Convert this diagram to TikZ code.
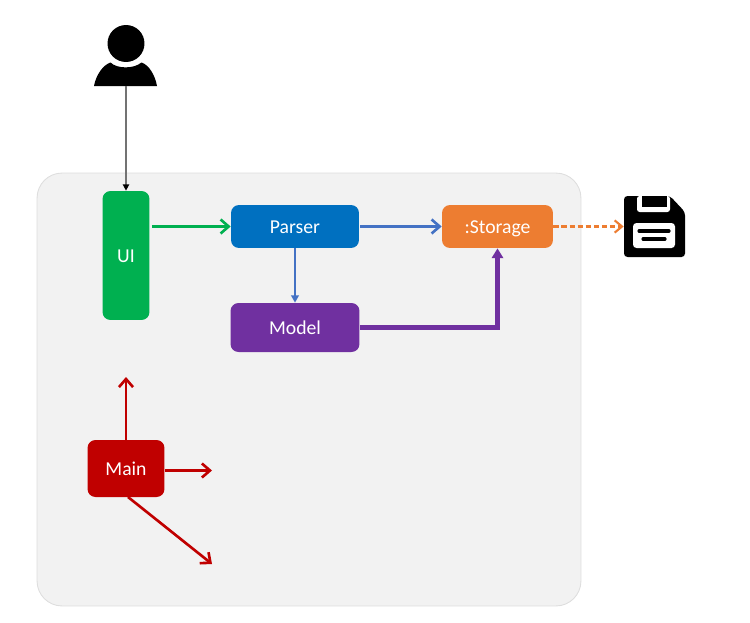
\documentclass[tikz,border=0pt]{standalone}
\usepackage{fontspec}
\setmainfont{Carlito}
\usetikzlibrary{arrows.meta}
\definecolor{uigreen}{HTML}{00B050}
\definecolor{parserblue}{HTML}{0070C0}
\definecolor{linkblue}{HTML}{4472C4}
\definecolor{modelpurple}{HTML}{7030A0}
\definecolor{storageorange}{HTML}{ED7D31}
\definecolor{mainred}{HTML}{C00000}
\tikzset{
  comp/.style={rectangle,rounded corners=0.16cm,inner sep=0pt,text=white,text height=9.6pt,text depth=1.5pt,font=\fontsize{11.2pt}{13pt}\selectfont},
  barb/.style={-{Straight Barb[length=4.6pt,width=8pt,line width=1.5pt]},line width=1.5pt},
  solidtip/.style={-{Triangle[length=4.2pt,width=4.4pt]}},
}
\begin{document}
\begin{tikzpicture}[x=0.02cm,y=-0.02cm]
\useasboundingbox (0,0) rectangle (750,622);
\node[rectangle,rounded corners=0.5cm,draw=black!13,fill=black!5,line width=0.5pt,minimum width=10.88cm,minimum height=8.66cm] (Core) at (309,389.5) {};
% user
\node[circle,fill=black,inner sep=0pt,minimum size=0.74cm] (Head) at (126,43.5) {};
\fill (94,86) .. controls (96,75) and (103,65) .. (110.5,62.5) .. controls (117,69) and (134,69) .. (141.5,62.5) .. controls (149,65) and (155,75) .. (157,86) -- cycle;
\node[inner sep=0pt,minimum width=1.26cm,minimum height=0pt] (User) at (126,86) {};
% disk
\node[inner sep=0pt,minimum size=1.22cm] (Disk) at (654.5,226.5) {};
\fill[rounded corners=2pt] (624,196) -- (670,196) -- (685,212) -- (685,257) -- (624,257) -- cycle;
\fill[white,rounded corners=1.5pt] (637,196) -- (637,212) -- (670,212) -- (670,196) -- cycle;
\fill (642,196) rectangle (667,207);
\fill[white,rounded corners=2pt] (633,223) rectangle (675,248);
\draw[line width=1.8pt,line cap=round] (639,231) -- (669,231);
\draw[line width=1.8pt,line cap=round] (643,239) -- (665,239);
% components
\node[comp,fill=uigreen,minimum width=0.94cm,minimum height=2.58cm] (UI) at (126,255.5) {UI};
\node[comp,fill=parserblue,minimum width=2.56cm,minimum height=0.86cm] (Parser) at (295,226.5) {Parser};
\node[comp,fill=storageorange,minimum width=2.22cm,minimum height=0.86cm] (Storage) at (497.5,226.5) {:Storage};
\node[comp,fill=modelpurple,minimum width=2.58cm,minimum height=0.98cm] (Model) at (295,327.5) {Model};
\node[comp,fill=mainred,minimum width=1.54cm,minimum height=1.14cm] (Main) at (126,468.5) {Main};
\coordinate (MainUp) at (126,377);
\coordinate (MainRight) at (212,470.5);
\coordinate (MainDown) at (212,564);
\draw[-{Triangle[length=3.6pt,width=3.6pt,color=black]},black!55,line width=0.8pt] (User.south) -- (UI.north);
\draw[barb,uigreen] (UI.east |- Parser.west) ++(2,0) -- (Parser.west);
\draw[barb,linkblue] (Parser.east) ++(1,0) -- (Storage.west);
\draw[solidtip,linkblue,line width=1.7pt] (Parser.south) -- (Model.north);
\draw[-{Triangle[length=5.6pt,width=6.4pt]},modelpurple,line width=2.3pt] (Model.east) -| (Storage.south);
\draw[-{Straight Barb[length=4.2pt,width=7pt,line width=1.2pt]},storageorange,line width=1.2pt,dash pattern=on 3pt off 1.6pt] (Storage.east) -- (Disk.west);
\draw[barb,mainred] (Main.north) -- (MainUp);
\draw[barb,mainred] (Main.east |- MainRight) -- (MainRight);
\draw[barb,mainred] (128,497) -- (MainDown);
\end{tikzpicture}
\end{document}
